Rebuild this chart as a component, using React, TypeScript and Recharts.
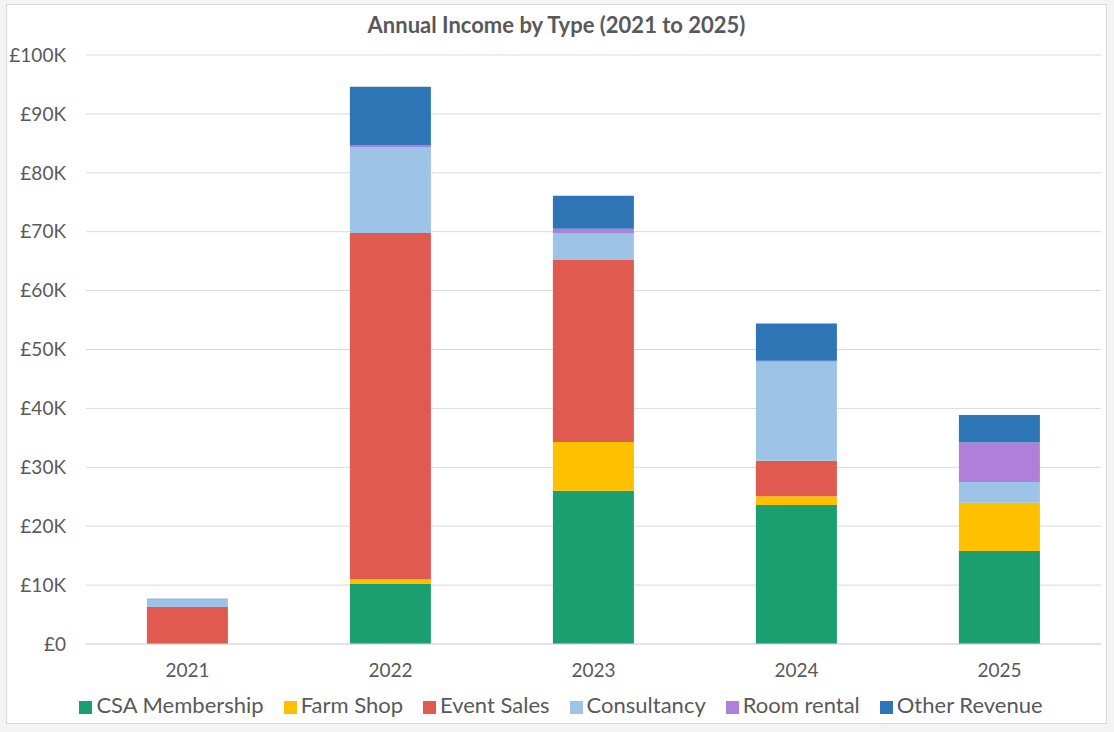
import React from "react";
import {
  BarChart,
  Bar,
  XAxis,
  YAxis,
  CartesianGrid,
  Legend,
} from "recharts";

const years = ["2021", "2022", "2023", "2024", "2025"];
const csaMembership = [0, 10200, 26000, 23600, 15800];
const farmShop = [0, 800, 8300, 1500, 8200];
const eventSales = [6300, 58800, 30900, 6000, 0];
const consultancy = [1300, 14500, 4500, 16800, 3500];
const roomRental = [0, 400, 800, 200, 6700];
const otherRevenue = [100, 9900, 5600, 6300, 4700];
const yTicks = [0, 10000, 20000, 30000, 40000, 50000, 60000, 70000, 80000, 90000, 100000];

const SERIES = [
  { key: "csa", name: "CSA Membership", color: "#1B9E70", values: csaMembership },
  { key: "farm", name: "Farm Shop", color: "#FFC000", values: farmShop },
  { key: "event", name: "Event Sales", color: "#E05A4F", values: eventSales },
  { key: "consult", name: "Consultancy", color: "#9DC3E6", values: consultancy },
  { key: "room", name: "Room rental", color: "#B07FD9", values: roomRental },
  { key: "other", name: "Other Revenue", color: "#2E75B6", values: otherRevenue },
];

const data = years.map((year, i) => {
  const row: Record<string, string | number> = { year };
  SERIES.forEach((s) => {
    row[s.key] = s.values[i];
  });
  return row;
});

const FONT = "Lato, 'Liberation Sans', sans-serif";
const TEXT = "#595959";

const fmtMoney = (v: number) => (v === 0 ? "£0" : `£${v / 1000}K`);

// keep legend in series order, not alphabetical
const legendOrder = (item: any) => SERIES.findIndex((s) => s.name === item.value);

export default function App() {
  return (
    <div
      style={{
        position: "absolute",
        left: 0,
        top: 0,
        width: 1114,
        height: 732,
        background: "#f4f4f4",
        fontFamily: FONT,
      }}
    >
      <div
        style={{
          position: "absolute",
          left: 6,
          top: 4,
          width: 1101,
          height: 720,
          background: "#fff",
          border: "1px solid #d9d9d9",
          boxSizing: "border-box",
        }}
      >
        <div
          style={{
            position: "absolute",
            top: 6,
            left: 0,
            width: "100%",
            textAlign: "center",
            fontSize: 22,
            fontWeight: 700,
            color: TEXT,
          }}
        >
          Annual Income by Type (2021 to 2025)
        </div>
        <BarChart
          width={1101}
          height={720}
          data={data}
          margin={{ top: 50, right: 7, bottom: 0, left: 0 }}
          barCategoryGap="30%"
        >
          <CartesianGrid vertical={false} stroke="#d9d9d9" />
          <XAxis
            dataKey="year"
            axisLine={{ stroke: "#d9d9d9" }}
            tickLine={false}
            height={51}
            tickMargin={14}
            tick={{ fill: TEXT, fontSize: 19, fontFamily: FONT }}
          />
          <YAxis
            width={79}
            domain={[0, 100000]}
            ticks={yTicks}
            tickFormatter={fmtMoney}
            axisLine={false}
            tickLine={false}
            tickMargin={14}
            tick={{ fill: TEXT, fontSize: 19, fontFamily: FONT }}
          />
          <Legend
            verticalAlign="bottom"
            iconType="square"
            iconSize={13}
            itemSorter={legendOrder}
            wrapperStyle={{
              height: 30,
              bottom: 4,
              paddingLeft: 34,
              boxSizing: "border-box",
              fontSize: 22,
              fontFamily: FONT,
            }}
            formatter={(value: string) => (
              <span style={{ color: TEXT, marginRight: 10 }}>{value}</span>
            )}
          />
          {SERIES.map((s) => (
            <Bar
              key={s.key}
              dataKey={s.key}
              name={s.name}
              stackId="income"
              fill={s.color}
              isAnimationActive={false}
            />
          ))}
        </BarChart>
      </div>
    </div>
  );
}
